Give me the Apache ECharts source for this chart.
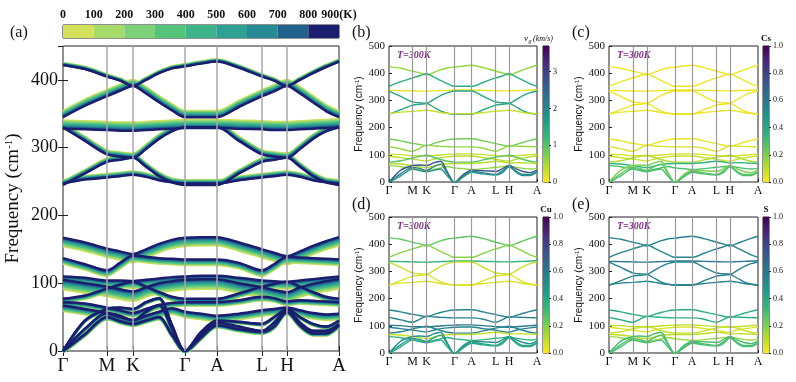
<!DOCTYPE html>
<html>
<head>
<meta charset="utf-8">
<script src="https://cdn.jsdelivr.net/npm/echarts@6/dist/echarts.min.js"></script>
<style>
  html, body { margin: 0; padding: 0; background: #fff; }
  #chart { width: 796px; height: 382px; }
</style>
</head>
<body>
<div id="chart"></div>
<script>
// k-path sample positions (path length units) and high-symmetry points
var kPos = [0, 22, 44, 57, 70, 83, 96, 109, 122, 138, 154, 176, 199, 211, 224, 237, 250, 263, 276];
var kTicks = [0, 44, 70, 122, 154, 199, 224, 276];
var kNames = ['Γ', 'M', 'K', 'Γ', 'A', 'L', 'H', 'A'];

// temperature colour bins (0-900 K)
var tempTicks = [0, 100, 200, 300, 400, 500, 600, 700, 800, 900];
var tempColors = ['#d3e05a', '#a6db6b', '#7dd07a', '#55c47b', '#3db48a', '#2fa194', '#268b95', '#20628c', '#1b1d6e'];

// phonon branches at 900 K (cm-1), read along kPos
var bandHA  = [422, 416, 405, 399, 391, 400, 410, 417, 420, 424, 427, 418, 405, 399, 391, 400, 410, 419, 427];
var bandHB  = [345, 362, 376, 384, 391, 380, 367, 355, 345, 345, 345, 360, 376, 383, 391, 380, 367, 354, 345];
var bandHF  = [328, 327, 326, 325, 325, 326, 327, 328, 329, 329, 329, 328, 327, 326, 326, 327, 328, 329, 330];
var bandHC  = [330, 310, 290, 287, 285, 298, 313, 324, 330, 330, 330, 310, 290, 287, 285, 298, 313, 324, 330];
var bandHD  = [245, 262, 279, 282, 285, 272, 258, 249, 245, 245, 245, 262, 279, 282, 285, 272, 258, 249, 245];
var bandHE  = [247, 253, 256, 258, 260, 257, 252, 249, 247, 247, 247, 252, 256, 258, 260, 257, 252, 249, 247];
var bandL1  = [167, 160, 151, 147, 143, 150, 158, 164, 167, 168, 168, 160, 150, 145, 140, 147, 155, 162, 168];
var bandL2  = [137, 128, 119, 130, 141, 139, 137, 136, 135, 135, 135, 130, 119, 128, 139, 138, 137, 136, 135];
var bandL3  = [110, 108, 104, 104, 103, 105, 107, 109, 110, 111, 111, 108, 104, 103, 102, 104, 106, 108, 110];
var bandL4  = [105, 100, 95, 91, 88, 94, 100, 103, 105, 106, 106, 100, 94, 90, 87, 94, 99, 103, 106];
var bandL5  = [77, 82, 92, 98, 102, 95, 87, 80, 77, 77, 77, 85, 95, 99, 102, 95, 87, 80, 77];
var bandL6  = [72, 70, 64, 60, 56, 62, 68, 71, 72, 72, 72, 75, 80, 78, 73, 75, 74, 73, 72];
var bandL7  = [67, 62, 56, 50, 46, 52, 58, 63, 58, 55, 52, 55, 60, 62, 64, 60, 56, 54, 55];
var bandAc1 = [0, 45, 62, 64, 62, 72, 78, 38, 0, 28, 45, 43, 40, 50, 62, 50, 40, 36, 45];
var bandAc2 = [0, 33, 56, 52, 45, 58, 68, 33, 0, 24, 42, 36, 30, 42, 60, 42, 30, 30, 40];
var bandAc3 = [0, 25, 50, 44, 40, 45, 50, 24, 0, 20, 38, 32, 28, 36, 58, 38, 26, 26, 38];
var bands = [bandHA, bandHB, bandHF, bandHC, bandHD, bandHE, bandL1, bandL2, bandL3, bandL4,
             bandL5, bandL6, bandL7, bandAc1, bandAc2, bandAc3];
// frequency offset of the lowest temperature relative to 900 K, per branch
var bandShift = [3, 9, 12, 6, 5, 5, -12, -8, -10, -14, -5, -5, -8, -2, -3, -3];

// per-branch colour quantities at 300 K
var vgBand = [0.6, 1.4, 0.1, 1.5, 1.5, 0.3, 0.8, 0.6, 0.3, 0.4, 1.0, 0.4, 0.6, 2.7, 2.1, 1.8];
var csBand = [0.02, 0.02, 0.03, 0.02, 0.02, 0.03, 0.03, 0.05, 0.06, 0.08, 0.12, 0.35, 0.3, 0.2, 0.25, 0.3];
var cuBand = [0.25, 0.18, 0.35, 0.08, 0.05, 0.05, 0.55, 0.55, 0.6, 0.55, 0.55, 0.08, 0.35, 0.5, 0.45, 0.4];
var sBand  = [0.55, 0.55, 0.6, 0.55, 0.55, 0.55, 0.38, 0.38, 0.1, 0.05, 0.08, 0.1, 0.15, 0.3, 0.3, 0.3];

var serif = '"Liberation Serif", "DejaVu Serif", serif';
var sans = '"Liberation Sans", Arial, sans-serif';

// reversed viridis: low value = yellow, high value = purple
var viridis = ['#fde725', '#b5de2b', '#6ece58', '#35b779', '#1f9e89', '#26828e', '#31688e', '#3e4989', '#482878', '#440154'];
function hexRgb(h) {
  return [parseInt(h.substr(1, 2), 16), parseInt(h.substr(3, 2), 16), parseInt(h.substr(5, 2), 16)];
}
function cmap(t) {
  t = Math.max(0, Math.min(1, t));
  var p = t * (viridis.length - 1), i = Math.floor(p), f = p - i;
  if (i >= viridis.length - 1) return viridis[viridis.length - 1];
  var a = hexRgb(viridis[i]), b = hexRgb(viridis[i + 1]);
  return 'rgb(' + Math.round(a[0] + (b[0] - a[0]) * f) + ',' + Math.round(a[1] + (b[1] - a[1]) * f) + ',' + Math.round(a[2] + (b[2] - a[2]) * f) + ')';
}
var cbStops = viridis.map(function (c, i) { return { offset: i / (viridis.length - 1), color: c }; });

var myChart = echarts.init(document.getElementById('chart'));

var grids = [
  { left: 63, top: 46, width: 276, height: 305 },   // a
  { left: 389, top: 46, width: 148, height: 136 },  // b
  { left: 609, top: 46, width: 149, height: 136 },  // c
  { left: 389, top: 217, width: 148, height: 136 }, // d
  { left: 609, top: 217, width: 149, height: 136 }, // e
  { left: 63, top: 25, width: 276, height: 13 },    // colorbar a
  { left: 543, top: 46, width: 6, height: 136 },    // colorbar b
  { left: 763, top: 46, width: 6, height: 136 },    // colorbar c
  { left: 543, top: 217, width: 6, height: 136 },   // colorbar d
  { left: 763, top: 217, width: 6, height: 136 }    // colorbar e
];
grids.forEach(function (g) { g.show = true; g.borderColor = '#222'; g.borderWidth = 1; g.backgroundColor = 'transparent'; });

function kLabel(v) { var i = kTicks.indexOf(v); return i < 0 ? '' : kNames[i]; }

// axis name with a small raised "-1"
function freqName(size, family) {
  return {
    text: '{n|Frequency (cm}{s|-1}{n|)}',
    style: { fontFamily: family, fontSize: size, color: '#111',
      rich: { n: { fontFamily: family, fontSize: size, color: '#111' },
              s: { fontFamily: family, fontSize: Math.round(size * 0.6), color: '#111', verticalAlign: 'top', padding: [0, 0, Math.round(size * 0.35), 0] } } }
  };
}
var nameA = freqName(19, serif), nameB = freqName(10, sans);

var xAxes = [], yAxes = [];
// panel a
xAxes.push({ gridIndex: 0, type: 'value', min: 0, max: 276, axisLine: { show: false }, splitLine: { show: false },
  axisTick: { inside: true, customValues: kTicks, length: 5, lineStyle: { color: '#222' } },
  axisLabel: { customValues: kTicks, formatter: kLabel, fontFamily: serif, fontSize: 19, color: '#111', margin: 6 } });
xAxes.push({ gridIndex: 0, type: 'value', position: 'top', min: 0, max: 276, axisLine: { show: false }, splitLine: { show: false },
  axisTick: { inside: true, customValues: kTicks, length: 5, lineStyle: { color: '#222' } }, axisLabel: { show: false } });
yAxes.push({ gridIndex: 0, type: 'value', min: 0, max: 450, interval: 100, axisLine: { show: false }, splitLine: { show: false },
  axisTick: { inside: true, length: 5, lineStyle: { color: '#222' } },
  axisLabel: { showMaxLabel: false, fontFamily: serif, fontSize: 18, color: '#111', margin: 5 },
  name: nameA.text, nameLocation: 'middle', nameGap: 40, nameRotate: 90,
  nameTextStyle: nameA.style });
yAxes.push({ gridIndex: 0, type: 'value', position: 'right', min: 0, max: 450, interval: 100, axisLine: { show: false }, splitLine: { show: false },
  axisTick: { inside: true, length: 5, lineStyle: { color: '#222' } }, axisLabel: { show: false } });
// panels b-e
for (var p = 1; p <= 4; p++) {
  xAxes.push({ gridIndex: p, type: 'value', min: 0, max: 276, axisLine: { show: false }, splitLine: { show: false },
    axisTick: { inside: true, customValues: kTicks, length: 3, lineStyle: { color: '#222' } },
    axisLabel: { customValues: kTicks, formatter: kLabel, fontFamily: serif, fontSize: 12, color: '#111', margin: 3 } });
  yAxes.push({ gridIndex: p, type: 'value', min: 0, max: 500, interval: 100, axisLine: { show: false }, splitLine: { show: false },
    axisTick: { inside: true, length: 3, lineStyle: { color: '#222' } },
    axisLabel: { fontFamily: serif, fontSize: 11, color: '#111', margin: 4 },
    name: nameB.text, nameLocation: 'middle', nameGap: 24, nameRotate: 90,
    nameTextStyle: nameB.style });
}
// colorbar a (horizontal, temperature)
xAxes.push({ gridIndex: 5, type: 'value', position: 'top', min: 0, max: 900, interval: 100, axisLine: { show: false }, splitLine: { show: false },
  axisTick: { length: 3, lineStyle: { color: '#222' } },
  axisLabel: { fontFamily: serif, fontSize: 12, fontWeight: 'bold', color: '#111', margin: 4,
    formatter: function (v) { return v === 900 ? '900(K)' : String(v); } } });
yAxes.push({ gridIndex: 5, type: 'category', data: ['T'], show: false });
// colorbars b-e
var cbMax = [3.7, 1, 1, 1];
var cbInterval = [1, 0.2, 0.2, 0.2];
for (var c = 0; c < 4; c++) {
  xAxes.push({ gridIndex: 6 + c, type: 'category', data: ['c'], show: false });
  yAxes.push({ gridIndex: 6 + c, type: 'value', position: 'right', min: 0, max: cbMax[c], interval: cbInterval[c],
    axisLine: { show: false }, splitLine: { show: false },
    axisTick: { show: true, length: 2, lineStyle: { color: '#222' } },
    axisLabel: { showMaxLabel: c > 0, fontFamily: serif, fontSize: 8, color: '#111', margin: 4,
      formatter: c === 0 ? function (v) { return String(v); } : function (v) { return v.toFixed(1); } } });
}

var series = [];
var vLines = kTicks.slice(1, -1).map(function (k) { return { xAxis: k }; });
// vertical high-symmetry lines
for (var g = 0; g < 5; g++) {
  series.push({ type: 'line', xAxisIndex: g === 0 ? 0 : g + 1, yAxisIndex: g === 0 ? 0 : g + 1, data: [], silent: true,
    markLine: { silent: true, symbol: 'none', label: { show: false }, animation: false,
      lineStyle: { color: g === 0 ? '#a8a8a8' : '#9a9a9a', width: g === 0 ? 1.5 : 1.2, type: 'solid' }, data: vLines } });
}

function bandData(b, bi, frac) {
  return kPos.map(function (k, i) { return [k, b[i] + bandShift[bi] * frac]; });
}

// panel a: one copy of each branch per temperature bin, hot on top
for (var t = 0; t < tempColors.length; t++) {
  var frac = (tempColors.length - 1 - t) / (tempColors.length - 1);
  bands.forEach(function (b, bi) {
    series.push({ type: 'line', xAxisIndex: 0, yAxisIndex: 0, smooth: 0.3, symbol: 'none', silent: true,
      lineStyle: { color: tempColors[t], width: 2.5 }, data: bandData(b, bi, frac) });
  });
}

// panels b-e at 300 K
var panelVals = [vgBand, csBand, cuBand, sBand];
var frac300 = 0.75;
for (var q = 0; q < 4; q++) {
  bands.forEach(function (b, bi) {
    series.push({ type: 'line', xAxisIndex: q + 2, yAxisIndex: q + 2, smooth: 0.3, symbol: 'none', silent: true,
      lineStyle: { color: cmap(panelVals[q][bi] / cbMax[q]), width: 1.4 }, data: bandData(b, bi, frac300) });
  });
}

// colorbar a: stacked temperature bins
for (var s = 0; s < tempColors.length; s++) {
  series.push({ type: 'bar', xAxisIndex: 6, yAxisIndex: 6, stack: 'temp', barWidth: '100%', silent: true,
    itemStyle: { color: tempColors[s] }, data: [tempTicks[s + 1] - tempTicks[s]] });
}
// colorbars b-e
for (var c2 = 0; c2 < 4; c2++) {
  series.push({ type: 'bar', xAxisIndex: 7 + c2, yAxisIndex: 7 + c2, barWidth: '100%', silent: true,
    itemStyle: { color: new echarts.graphic.LinearGradient(0, 1, 0, 0, cbStops) }, data: [cbMax[c2]] });
}

function txt(x, y, text, font, fill, align) {
  return { type: 'text', x: x, y: y, silent: true,
    style: { text: text, font: font, fill: fill || '#111', align: align || 'left', verticalAlign: 'middle' } };
}
var tFont = 'italic bold 10px ' + serif;
var tCol = '#7d2a86';

var option = {
  animation: false,
  backgroundColor: '#fff',
  grid: grids,
  xAxis: xAxes,
  yAxis: yAxes,
  series: series,
  graphic: [
    txt(10, 33, '(a)', '16px ' + serif),
    txt(352, 33, '(b)', '16px ' + serif),
    txt(572, 33, '(c)', '16px ' + serif),
    txt(352, 205, '(d)', '16px ' + serif),
    txt(572, 205, '(e)', '16px ' + serif),
    txt(397, 55, 'T=300K', tFont, tCol),
    txt(617, 55, 'T=300K', tFont, tCol),
    txt(397, 226, 'T=300K', tFont, tCol),
    txt(617, 226, 'T=300K', tFont, tCol),
    txt(524, 39, 'v', 'italic 9px ' + serif),
    txt(528.5, 41, 'g', 'italic 6px ' + serif),
    txt(533, 39, '(km/s)', 'italic 8px ' + serif),
    txt(766, 39, 'Cs', 'bold 9px ' + serif, '#111', 'center'),
    txt(546, 210, 'Cu', 'bold 9px ' + serif, '#111', 'center'),
    txt(766, 210, 'S', 'bold 9px ' + serif, '#111', 'center')
  ]
};
myChart.setOption(option);
</script>
</body>
</html>
